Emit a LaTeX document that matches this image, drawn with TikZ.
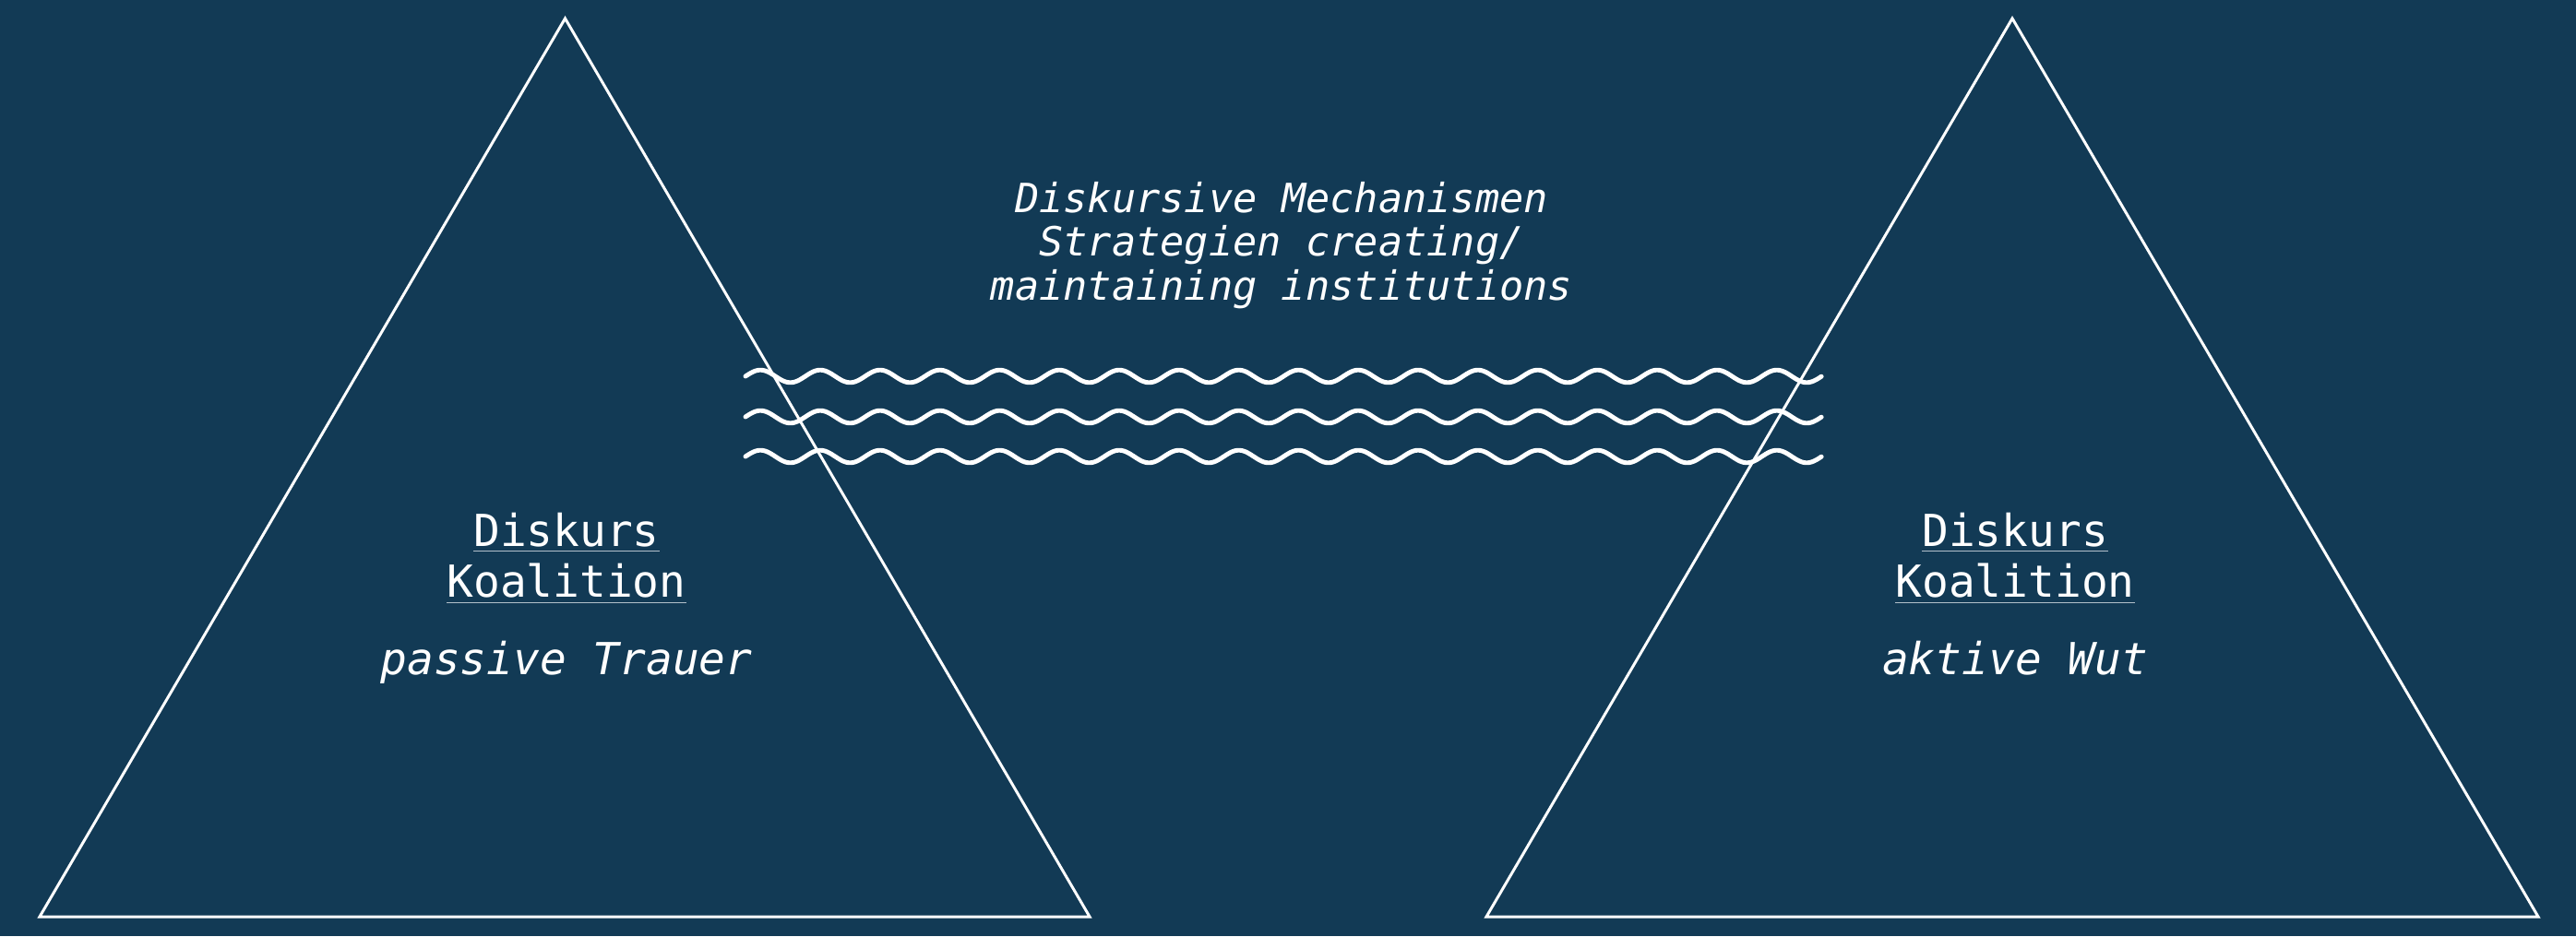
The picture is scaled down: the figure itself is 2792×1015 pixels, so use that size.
\documentclass[tikz,border=0pt]{standalone}
\usepackage{fontspec}
\setmonofont{DejaVu Sans Mono}
\usepackage{tikz}
\usepackage{xcolor}
\definecolor{nightblue}{RGB}{18,58,85}
\definecolor{rulegray}{RGB}{178,192,202}
\newcommand{\koalline}[1]{{\color{rulegray}$\underline{\hbox{\color{white}#1}}$}}
\tikzset{
  edge/.style={draw=white, line width=0.85pt},
  wave/.style={draw=white, line width=1.4pt, line join=round, line cap=round},
  headtext/.style={text=white, align=center, inner sep=0pt, font=\ttfamily\itshape\fontsize{12.4}{13.5}\selectfont},
  coaltext/.style={text=white, align=center, inner sep=0pt, anchor=north, font=\ttfamily\fontsize{13.6}{15.8}\selectfont}
}

\begin{document}
\begin{tikzpicture}[x=0.01cm,y=-0.01cm]
\fill[nightblue] (0,0) rectangle (2792,1015);
\useasboundingbox (0,0) rectangle (2792,1015);

\foreach \row in {408,452,495}
  \draw[wave] plot[domain=0:18, samples=541] ({808+\x*64.8}, {\row-6.8*sin(\x*360)});

\coordinate (ltop) at (612.5,20);
\coordinate (lleft) at (43,994);
\coordinate (lright) at (1181,994);
\coordinate (rtop) at (2181,20);
\coordinate (rleft) at (1611,994);
\coordinate (rright) at (2751,994);
\draw[edge] (ltop) -- (lleft) -- (lright) -- cycle;
\draw[edge] (rtop) -- (rleft) -- (rright) -- cycle;

\node[headtext] (mech) at (1389,266) {Diskursive Mechanismen\\Strategien creating/\\maintaining institutions};
\node[coaltext] (passiv) at (614,555) {\koalline{Diskurs}\\\koalline{Koalition}\\[8pt]\textit{passive Trauer}};
\node[coaltext] (aktiv) at (2184,555) {\koalline{Diskurs}\\\koalline{Koalition}\\[8pt]\textit{aktive Wut}};
\end{tikzpicture}
\end{document}
